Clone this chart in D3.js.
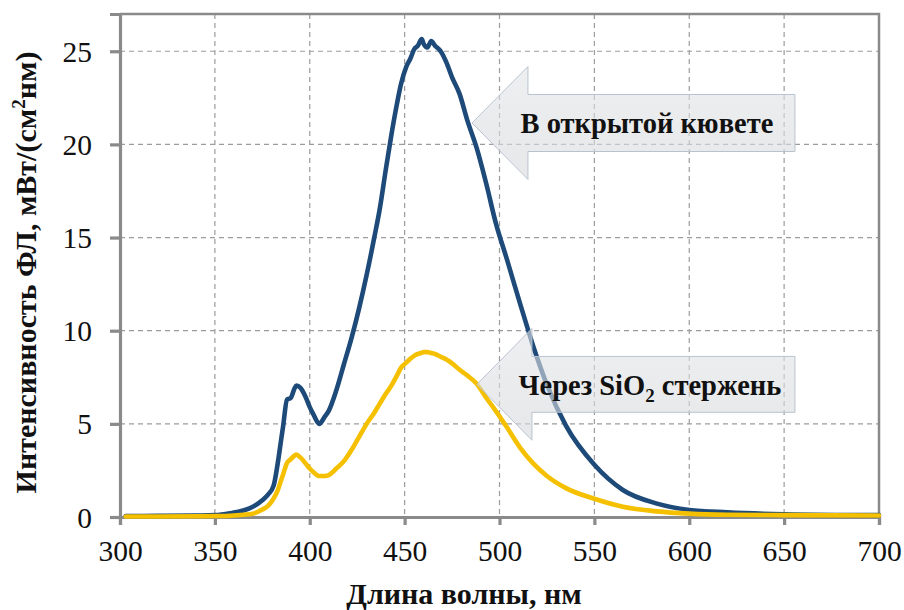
<!DOCTYPE html>
<html>
<head>
<meta charset="utf-8">
<script src="https://cdn.jsdelivr.net/npm/d3@7"></script>
<style>html,body{margin:0;background:#fff}</style>
</head>
<body>
<svg id="chart" width="904" height="610" style="font-family: 'Times New Roman', 'Liberation Serif', Times, Tinos, FreeSerif, serif"></svg>
<script>
// Wavelength grid (nm)
const wavelengths = [303, 320, 340, 350, 358, 365, 370, 375, 378, 381, 383, 385, 386, 388, 390, 392, 393, 395, 396, 398,
  400, 402, 405, 408, 410, 414, 418, 422, 426, 430, 434, 437, 440, 443, 446, 448, 451, 453, 455, 457, 459, 460, 462, 464,
  466, 469, 472, 475, 479, 483, 488, 493, 498, 504, 511, 518, 525, 535, 550, 565, 583, 600, 620, 650, 700];

// PL intensity, open cuvette
const openCuvette = [0.05, 0.06, 0.08, 0.1, 0.2, 0.35, 0.55, 0.9, 1.2, 1.7, 2.8, 4.2, 4.9, 6.3, 6.4, 6.9, 7.05, 6.95, 6.8, 6.4,
  5.9, 5.5, 5.0, 5.4, 5.7, 6.8, 8.2, 9.6, 11.2, 13.0, 15.0, 16.6, 18.6, 20.5, 22.2, 23.2, 24.2, 24.6, 25.1, 25.3, 25.65, 25.4, 25.2, 25.55,
  25.3, 25.0, 24.4, 23.6, 22.7, 21.3, 19.8, 17.9, 15.8, 13.8, 11.4, 9.1, 7.1, 4.9, 2.8, 1.45, 0.72, 0.38, 0.25, 0.15, 0.1];

// PL intensity, through the SiO2 rod
const throughRod = [0.03, 0.03, 0.04, 0.05, 0.07, 0.12, 0.18, 0.4, 0.6, 1.0, 1.4, 2.0, 2.3, 2.9, 3.1, 3.3, 3.35, 3.2, 3.1, 2.85,
  2.6, 2.4, 2.2, 2.2, 2.25, 2.6, 3.0, 3.6, 4.3, 5.0, 5.6, 6.1, 6.6, 7.05, 7.6, 8.0, 8.3, 8.5, 8.65, 8.75, 8.82, 8.85, 8.85, 8.8,
  8.75, 8.6, 8.45, 8.25, 7.9, 7.6, 7.15, 6.4, 5.7, 4.8, 3.7, 2.85, 2.2, 1.55, 0.98, 0.55, 0.3, 0.18, 0.12, 0.1, 0.08];

const xTicks = [300, 350, 400, 450, 500, 550, 600, 650, 700];
const yTicks = [0, 5, 10, 15, 20, 25];

const fontStack = ["Times New Roman", "Liberation Serif", "Times", "Tinos", "FreeSerif"];
const FONT = fontStack.map(f => `"${f}"`).join(", ") + ", serif";
const margin = { left: 120, right: 25, top: 14, bottom: 93 };
const W = 904, H = 610;
const svg = d3.select("#chart");

const x = d3.scaleLinear().domain([300, 700]).range([margin.left, W - margin.right]);
const y = d3.scaleLinear().domain([0, 27]).range([H - margin.bottom, margin.top]);

const frameColor = "#8a8a8a";
const gridColor = "#9c9c9c";

// Dashed grid
svg.append("g").selectAll("line").data(xTicks.slice(1, -1)).join("line")
  .attr("x1", d => x(d)).attr("x2", d => x(d))
  .attr("y1", y(27)).attr("y2", y(0))
  .attr("stroke", gridColor).attr("stroke-width", 1.2).attr("stroke-dasharray", "5,4");
svg.append("g").selectAll("line").data(yTicks.slice(1)).join("line")
  .attr("x1", x(300)).attr("x2", x(700))
  .attr("y1", d => y(d)).attr("y2", d => y(d))
  .attr("stroke", gridColor).attr("stroke-width", 1.2).attr("stroke-dasharray", "5,4");

// Frame (top and right)
svg.append("path")
  .attr("d", `M${x(300)},${y(27)}H${x(700)}V${y(0)}`)
  .attr("fill", "none").attr("stroke", frameColor).attr("stroke-width", 2.5);

// Axes
const xAxis = svg.append("g").attr("transform", `translate(0,${y(0)})`)
  .call(d3.axisBottom(x).tickValues(xTicks).tickSize(8).tickPadding(15).tickFormat(d3.format("d")));
const yAxis = svg.append("g").attr("transform", `translate(${x(300)},0)`)
  .call(d3.axisLeft(y).tickValues(yTicks).tickSize(10).tickPadding(18).tickFormat(d3.format("d")));

[xAxis, yAxis].forEach(g => {
  g.attr("font-family", null).attr("font-size", null);
  g.select(".domain").attr("stroke", frameColor).attr("stroke-width", 3.2);
  g.selectAll(".tick line").attr("stroke", frameColor).attr("stroke-width", 3.2);
  g.selectAll(".tick text")
    .attr("fill", "#111")
    .attr("font-size", 29.5)
    .style("font-family", FONT);
});
xAxis.selectAll(".tick text").attr("dy", "0.71em");
yAxis.selectAll(".tick text").attr("dy", "0.34em");

// Spectra
const line = d3.line().x(d => x(d[0])).y(d => y(d[1])).curve(d3.curveMonotoneX);
const series = [
  { values: openCuvette, color: "#1d4a78" },
  { values: throughRod, color: "#f4c000" }
];
series.forEach(s => {
  svg.append("path")
    .datum(wavelengths.map((w, i) => [w, s.values[i]]))
    .attr("d", line)
    .attr("fill", "none")
    .attr("stroke", s.color)
    .attr("stroke-width", 4.6)
    .attr("stroke-linejoin", "round")
    .attr("stroke-linecap", "round");
});

// Left-pointing block arrows with labels
const defs = svg.append("defs");
const grad = defs.append("linearGradient").attr("id", "arrowFill")
  .attr("x1", 0).attr("y1", 0).attr("x2", 0).attr("y2", 1);
grad.append("stop").attr("offset", "0%").attr("stop-color", "#e2e4e7");
grad.append("stop").attr("offset", "100%").attr("stop-color", "#d6d8db");

const annotations = [
  { tip: [485.5, 21.15], neck: 515.0, end: 655.7, body: 1.53, head: 3.03, label: 577.7, text: "В открытой кювете", sub: null },
  { tip: [488.1, 7.12], neck: 517.1, end: 655.7, body: 1.5, head: 3.0, label: 579.3, text: "Через SiO", sub: "2", after: " стержень" }
];

annotations.forEach(a => {
  const tx = x(a.tip[0]), ty = y(a.tip[1]);
  const nx = x(a.neck), ex = x(a.end);
  const bh = y(0) - y(a.body), hh = y(0) - y(a.head);
  const pts = [[tx, ty], [nx, ty - hh], [nx, ty - bh], [ex, ty - bh], [ex, ty + bh], [nx, ty + bh], [nx, ty + hh]];
  svg.append("path")
    .attr("d", "M" + pts.map(p => p.join(",")).join("L") + "Z")
    .attr("fill", "url(#arrowFill)")
    .attr("fill-opacity", 0.6)
    .attr("stroke", "#b9c3cf")
    .attr("stroke-width", 1);

  const t = svg.append("text")
    .attr("x", x(a.label))
    .attr("y", ty + 10.5)
    .attr("text-anchor", "middle")
    .attr("fill", "#111")
    .attr("font-weight", "bold")
    .attr("font-size", 28.5)
    .style("font-family", FONT);
  t.append("tspan").text(a.text);
  if (a.sub) {
    t.append("tspan").attr("dy", 7).attr("font-size", 19).text(a.sub);
    t.append("tspan").attr("dy", -7).text(a.after);
  }
});

// Axis titles
svg.append("text")
  .attr("x", 464).attr("y", 604)
  .attr("text-anchor", "middle")
  .attr("fill", "#111")
  .attr("font-weight", "bold")
  .attr("font-size", 30)
  .style("font-family", FONT)
  .text("Длина волны, нм");

const yTitle = svg.append("text")
  .attr("transform", `translate(36,${272.5}) rotate(-90)`)
  .attr("text-anchor", "middle")
  .attr("fill", "#111")
  .attr("font-weight", "bold")
  .attr("font-size", 30)
  .style("font-family", FONT);
yTitle.append("tspan").text("Интенсивность ФЛ, мВт/(см");
yTitle.append("tspan").attr("dy", -11).attr("font-size", 19).text("2");
yTitle.append("tspan").attr("dy", 11).text("нм)");
</script>
</body>
</html>
